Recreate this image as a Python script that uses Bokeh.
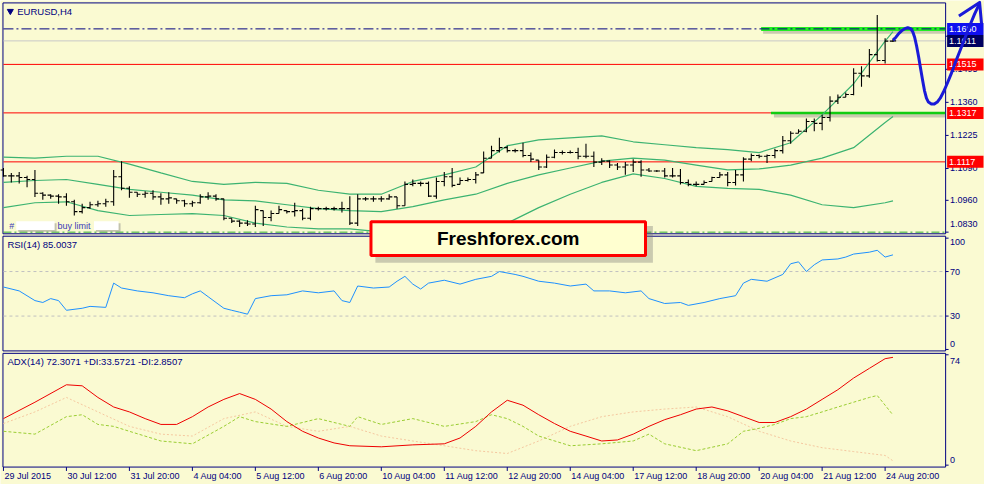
from bokeh.plotting import figure
from bokeh.models import Range1d, ColumnDataSource
from bokeh.transform import dodge
from bokeh.core.properties import value
from bokeh.embed import file_html
from bokeh.resources import INLINE

# ---------------- data ----------------
symbol_title = "EURUSD,H4"
time_labels = ["29 Jul 2015", "30 Jul 12:00", "31 Jul 20:00", "4 Aug 04:00", "5 Aug 12:00",
               "6 Aug 20:00", "10 Aug 04:00", "11 Aug 12:00", "12 Aug 20:00", "14 Aug 04:00",
               "17 Aug 12:00", "18 Aug 20:00", "20 Aug 04:00", "21 Aug 12:00", "24 Aug 20:00"]
time_label_bars = [0, 8, 16, 24, 32, 40, 48, 56, 64, 72, 80, 88, 96, 104, 112]

bar_open = [1.1084, 1.1060, 1.1060, 1.1053, 1.1045, 1.0989, 1.0981, 1.0977, 1.0974, 1.0954,
            1.0914, 1.0930, 1.0942, 1.0946, 1.0954, 1.1056, 1.1009, 1.0993, 1.0985, 1.0989,
            1.0974, 1.0966, 1.0966, 1.0958, 1.0946, 1.0950, 1.0974, 1.0977, 1.0966, 1.0887,
            1.0875, 1.0867, 1.0863, 1.0918, 1.0890, 1.0906, 1.0918, 1.0914, 1.0918, 1.0887,
            1.0926, 1.0926, 1.0926, 1.0926, 1.0926, 1.0867, 1.0966, 1.0966, 1.0966, 1.0966,
            1.0974, 1.0938, 1.1025, 1.1029, 1.1029, 1.0977, 1.1037, 1.1056, 1.1025, 1.1041,
            1.1045, 1.1072, 1.1132, 1.1163, 1.1175, 1.1163, 1.1163, 1.1143, 1.1124, 1.1096,
            1.1136, 1.1155, 1.1155, 1.1155, 1.1140, 1.1140, 1.1116, 1.1120, 1.1104, 1.1096,
            1.1104, 1.1116, 1.1084, 1.1080, 1.1080, 1.1060, 1.1060, 1.1033, 1.1025, 1.1025,
            1.1037, 1.1053, 1.1064, 1.1033, 1.1064, 1.1128, 1.1143, 1.1140, 1.1143, 1.1163,
            1.1203, 1.1234, 1.1242, 1.1282, 1.1274, 1.1298, 1.1365, 1.1381, 1.1392, 1.1479,
            1.1468, 1.1555, 1.1531, 1.1610]
bar_high = [1.1092, 1.1072, 1.1076, 1.1060, 1.1084, 1.0993, 1.0985, 1.0985, 1.0989, 1.0962,
            1.0946, 1.0954, 1.0958, 1.0966, 1.1084, 1.1120, 1.1017, 1.0993, 1.0997, 1.1001,
            1.0989, 1.0993, 1.0966, 1.0962, 1.0958, 1.0985, 1.0993, 1.0985, 1.0966, 1.0887,
            1.0879, 1.0879, 1.0938, 1.0918, 1.0918, 1.0938, 1.0918, 1.0950, 1.0926, 1.0934,
            1.0934, 1.0934, 1.0934, 1.0954, 1.0977, 1.0985, 1.0974, 1.0977, 1.0977, 1.0985,
            1.0974, 1.1037, 1.1045, 1.1037, 1.1037, 1.1053, 1.1076, 1.1092, 1.1053, 1.1053,
            1.1076, 1.1159, 1.1183, 1.1215, 1.1183, 1.1171, 1.1195, 1.1155, 1.1124, 1.1147,
            1.1167, 1.1163, 1.1163, 1.1175, 1.1191, 1.1159, 1.1132, 1.1124, 1.1112, 1.1116,
            1.1128, 1.1124, 1.1092, 1.1084, 1.1092, 1.1092, 1.1088, 1.1045, 1.1037, 1.1041,
            1.1056, 1.1076, 1.1076, 1.1084, 1.1136, 1.1151, 1.1147, 1.1147, 1.1171, 1.1223,
            1.1242, 1.1250, 1.1294, 1.1294, 1.1309, 1.1385, 1.1392, 1.1400, 1.1499, 1.1507,
            1.1578, 1.1717, 1.1622, 1.1618]
bar_low = [1.1056, 1.1033, 1.1029, 1.1013, 1.0974, 1.0962, 1.0966, 1.0946, 1.0938, 1.0898,
           1.0906, 1.0926, 1.0934, 1.0934, 1.0938, 1.1001, 1.0970, 1.0974, 1.0970, 1.0962,
           1.0942, 1.0946, 1.0946, 1.0934, 1.0934, 1.0946, 1.0962, 1.0958, 1.0879, 1.0867,
           1.0851, 1.0855, 1.0851, 1.0855, 1.0875, 1.0906, 1.0906, 1.0894, 1.0879, 1.0879,
           1.0918, 1.0918, 1.0918, 1.0910, 1.0859, 1.0855, 1.0958, 1.0954, 1.0954, 1.0962,
           1.0926, 1.0938, 1.1017, 1.1017, 1.0974, 1.0966, 1.1017, 1.1013, 1.1025, 1.1037,
           1.1029, 1.1072, 1.1132, 1.1155, 1.1155, 1.1155, 1.1136, 1.1116, 1.1084, 1.1092,
           1.1132, 1.1147, 1.1151, 1.1128, 1.1132, 1.1096, 1.1104, 1.1092, 1.1084, 1.1064,
           1.1076, 1.1056, 1.1076, 1.1076, 1.1053, 1.1053, 1.1025, 1.1017, 1.1017, 1.1025,
           1.1037, 1.1053, 1.1017, 1.1021, 1.1037, 1.1120, 1.1132, 1.1112, 1.1132, 1.1151,
           1.1191, 1.1234, 1.1238, 1.1242, 1.1246, 1.1282, 1.1353, 1.1381, 1.1389, 1.1424,
           1.1460, 1.1527, 1.1519, 1.1606]
bar_close = [1.1060, 1.1060, 1.1053, 1.1045, 1.0989, 1.0981, 1.0977, 1.0974, 1.0954, 1.0914,
             1.0930, 1.0942, 1.0946, 1.0954, 1.1056, 1.1009, 1.0993, 1.0985, 1.0989, 1.0974,
             1.0966, 1.0970, 1.0958, 1.0946, 1.0950, 1.0974, 1.0977, 1.0966, 1.0887, 1.0875,
             1.0867, 1.0863, 1.0922, 1.0890, 1.0906, 1.0922, 1.0914, 1.0918, 1.0887, 1.0926,
             1.0926, 1.0926, 1.0926, 1.0926, 1.0867, 1.0966, 1.0966, 1.0966, 1.0966, 1.0974,
             1.0938, 1.1025, 1.1029, 1.1029, 1.0977, 1.1037, 1.1056, 1.1021, 1.1041, 1.1045,
             1.1064, 1.1132, 1.1163, 1.1175, 1.1163, 1.1163, 1.1143, 1.1128, 1.1096, 1.1136,
             1.1155, 1.1155, 1.1155, 1.1140, 1.1140, 1.1116, 1.1120, 1.1104, 1.1096, 1.1104,
             1.1116, 1.1084, 1.1080, 1.1080, 1.1060, 1.1060, 1.1033, 1.1025, 1.1025, 1.1033,
             1.1053, 1.1064, 1.1033, 1.1064, 1.1128, 1.1143, 1.1140, 1.1143, 1.1163, 1.1203,
             1.1234, 1.1242, 1.1282, 1.1274, 1.1298, 1.1365, 1.1381, 1.1392, 1.1479, 1.1468,
             1.1555, 1.1531, 1.1610, 1.1611]

bb_bars = [0, 4, 8, 12, 16, 20, 24, 28, 32, 36, 40, 44, 48, 52, 56, 60, 64, 68, 72, 76,
           80, 84, 88, 92, 96, 100, 104, 108, 112, 113]
bb_upper = [1.1136, 1.1132, 1.1140, 1.1140, 1.1108, 1.1072, 1.1037, 1.1025, 1.1033, 1.1029,
            1.1001, 1.0985, 1.0985, 1.1037, 1.1064, 1.1096, 1.1183, 1.1207, 1.1215, 1.1223,
            1.1199, 1.1187, 1.1175, 1.1167, 1.1155, 1.1195, 1.1309, 1.1436, 1.1610, 1.1649]
bb_middle = [1.1033, 1.1041, 1.1045, 1.1025, 1.1005, 1.0993, 1.0981, 1.0962, 1.0958, 1.0942,
             1.0926, 1.0918, 1.0914, 1.0934, 1.0962, 1.0985, 1.1029, 1.1064, 1.1092, 1.1120,
             1.1132, 1.1124, 1.1104, 1.1084, 1.1088, 1.1104, 1.1132, 1.1175, 1.1278, 1.1302]
bb_lower = [1.0930, 1.0950, 1.0954, 1.0918, 1.0898, 1.0902, 1.0906, 1.0898, 1.0867, 1.0851,
            1.0843, 1.0843, 1.0831, 1.0827, 1.0835, 1.0851, 1.0867, 1.0930, 1.0985, 1.1033,
            1.1068, 1.1049, 1.1017, 1.1009, 1.1005, 1.0981, 1.0942, 1.0930, 1.0950, 1.0958]

rsi_bars = [0, 2, 4, 5, 6, 7, 8, 10, 11, 13, 14, 15, 17, 19, 21, 23, 24, 25, 26, 28,
            29, 30, 31, 32, 34, 36, 38, 40, 42, 43, 44, 45, 47, 49, 50, 51, 52, 53, 54, 56,
            58, 60, 62, 63, 65, 66, 68, 70, 72, 74, 75, 77, 79, 81, 82, 84, 86, 87, 89, 91,
            93, 94, 95, 97, 99, 100, 101, 102, 103, 104, 106, 107, 108, 110, 111, 112, 113]
rsi_values = [56.1, 52.6, 43.9, 42.2, 45.7, 43.9, 35.2, 37.0, 38.7, 37.8, 59.6, 55.2, 52.6, 50.9,
              48.3, 46.5, 50.0, 52.6, 47.4, 37.0, 35.2, 33.5, 31.7, 45.7, 48.3, 49.1, 52.6, 50.9,
              52.6, 43.9, 42.2, 57.0, 55.2, 56.1, 61.3, 65.7, 58.7, 54.3, 59.6, 62.2, 58.7, 63.0,
              65.7, 70.0, 67.4, 65.7, 61.3, 59.6, 57.0, 58.7, 52.6, 52.6, 50.9, 52.6, 45.7, 41.3,
              42.2, 39.6, 42.2, 45.7, 48.3, 59.6, 63.0, 61.3, 67.4, 77.0, 78.7, 70.0, 76.1, 80.4,
              81.3, 83.0, 85.7, 87.4, 89.1, 83.0, 85.0]

adx_bars = [0, 4, 8, 10, 12, 14, 16, 18, 20, 22, 24, 26, 28, 30, 32, 34, 36, 38, 40, 42,
            44, 48, 52, 56, 58, 60, 62, 64, 66, 68, 70, 72, 74, 76, 78, 80, 82, 84, 86, 88,
            90, 92, 94, 96, 98, 100, 102, 104, 106, 108, 110, 112, 113]
adx_main = [31.2, 42.2, 53.9, 53.2, 45.4, 39.0, 35.7, 31.2, 27.3, 27.3, 32.5, 39.0, 44.1, 48.0,
            44.1, 37.6, 29.2, 22.7, 18.2, 14.9, 13.0, 12.3, 13.6, 14.3, 18.2, 26.0, 35.7, 43.5,
            40.2, 33.8, 27.9, 22.7, 19.5, 16.2, 16.9, 20.8, 26.0, 30.5, 33.8, 37.6, 39.0, 36.4,
            32.5, 28.6, 28.6, 32.5, 37.6, 44.1, 50.6, 58.4, 64.9, 71.4, 72.3]
plus_di_bars = [0, 4, 8, 10, 12, 14, 16, 20, 24, 28, 30, 32, 36, 40, 44, 45, 48, 52, 56, 60,
                62, 64, 66, 68, 72, 76, 80, 82, 84, 88, 92, 94, 96, 98, 100, 102, 104, 106, 108,
                110, 111, 112, 113]
adx_plus_di = [22.7, 20.8, 32.5, 33.8, 27.3, 26.0, 22.7, 16.2, 14.3, 26.0, 32.5, 29.2, 26.0, 31.2,
               26.0, 32.5, 27.3, 31.2, 26.0, 29.2, 33.8, 31.2, 26.0, 19.5, 13.0, 14.3, 16.2, 20.8,
               14.3, 9.7, 14.3, 22.7, 24.7, 27.3, 31.2, 32.5, 35.7, 39.0, 42.2, 45.4, 46.7, 40.2,
               33.6]
minus_di_bars = [0, 4, 8, 12, 16, 20, 24, 28, 32, 36, 40, 44, 48, 52, 56, 60, 64, 68, 72, 76,
                 80, 84, 88, 92, 96, 100, 104, 108, 112, 113]
adx_minus_di = [27.9, 35.7, 45.4, 35.7, 26.0, 20.8, 19.5, 31.2, 35.7, 26.0, 22.7, 26.0, 19.5, 16.2,
                13.0, 9.7, 7.8, 16.2, 26.0, 32.5, 35.7, 37.6, 39.0, 32.5, 22.7, 16.2, 11.7, 9.1,
                6.5, 2.9]

price_ticks = [1.0830, 1.0960, 1.1090, 1.1225, 1.1360, 1.1495, 1.1630]
price_tick_labels = ["1.0830", "1.0960", "1.1090", "1.1225", "1.1360", "1.1495", "1.1630"]
red_levels = [1.1515, 1.1317, 1.1117]
resistance_level = 1.1660
support_level = 1.1317
bid_price = 1.1611
buy_limit_price = 1.0830
marker_prices = [1.1660, 1.1611, 1.1515, 1.1317, 1.1117]
marker_labels = ["1.1660", "1.1611", "1.1515", "1.1317", "1.1117"]
rsi_levels = [70, 30]
rsi_ticks = [100, 70, 30, 0]
adx_ticks = [74, 0]
rsi_caption = "RSI(14) 85.0037"
adx_caption = "ADX(14) 72.3071 +DI:33.5721 -DI:2.8507"
watermark = "Freshforex.com"

forecast_bar = [113.0, 113.375, 113.75, 114.125, 114.5, 114.875, 115.25, 115.5, 115.75, 116.0,
                116.25, 116.5, 116.75, 117.0, 117.25, 117.5, 117.875, 118.25, 118.625, 119.0,
                119.375, 119.875, 120.375, 120.875, 121.5, 122.125, 122.75, 123.375, 124.0]
forecast_price = [1.1614, 1.1626, 1.1642, 1.1653, 1.1661, 1.1665, 1.1661, 1.1649, 1.1626, 1.1590,
                  1.1547, 1.1499, 1.1452, 1.1408, 1.1377, 1.1361, 1.1353, 1.1353, 1.1361, 1.1377,
                  1.1400, 1.1436, 1.1475, 1.1519, 1.1570, 1.1622, 1.1673, 1.1721, 1.1764]
arrow_bar = [121.375, 124.0, 124.25]
arrow_price = [1.1713, 1.1768, 1.1681]

# ---------------- styling ----------------
BG = "#FAFAD2"
NAVY = "#000080"
FONT = value("Liberation Sans")
FS = "9px"

p = figure(width=984, height=484, x_range=Range1d(-0.375, 124.625), y_range=Range1d(500, 0),
           output_backend="svg", toolbar_location=None, min_border=0,
           x_axis_location=None, y_axis_location=None, outline_line_color=None,
           background_fill_color=BG, border_fill_color=BG)
p.min_border_left = p.min_border_right = p.min_border_top = p.min_border_bottom = 0
p.grid.visible = False
p.extra_x_ranges = {"px": Range1d(0, 1000)}
p.extra_y_ranges = {"price": Range1d(0.97996, 1.17759),
                    "rsi": Range1d(-121.3, 313.48),
                    "adx": Range1d(-12.98, 311.59)}

PX = dict(x_range_name="px")
PR = dict(y_range_name="price")

# panel frames
p.quad(left=[2.5, 2.5, 2.5], right=[960.5, 960.5, 960.5], top=[2.5, 243.5, 364.5],
       bottom=[241, 362, 482], fill_color=None, line_color=NAVY, line_width=1, **PX)

# ---- main panel ----
p.segment(x0=[3], x1=[960], y0=[bid_price], y1=[bid_price], line_color="#C8C8C8", line_width=1, **PX, **PR)
p.segment(x0=[3] * 3, x1=[960] * 3, y0=red_levels, y1=red_levels, line_color="#FF0000", line_width=1, **PX, **PR)
p.segment(x0=[3], x1=[960], y0=[buy_limit_price], y1=[buy_limit_price], line_color="#2EAA2E",
          line_dash="8 3 2 3", line_width=1, **PX, **PR)
# green zone lines with soft shadow
p.segment(x0=[775, 786], x1=[960, 960], y0=[resistance_level - 0.0010, support_level - 0.0009],
          y1=[resistance_level - 0.0010, support_level - 0.0009], line_color="#707070", line_alpha=0.35,
          line_width=5, **PX, **PR)
p.segment(x0=[773], x1=[960], y0=[resistance_level], y1=[resistance_level], line_color="#22EE22",
          line_width=4, **PX, **PR)
p.segment(x0=[783], x1=[960], y0=[support_level], y1=[support_level], line_color="#11CC11",
          line_width=2.5, **PX, **PR)
p.segment(x0=[3], x1=[960], y0=[resistance_level], y1=[resistance_level], line_color=NAVY,
          line_dash="10 3 2 3", line_width=1, **PX, **PR)

# Bollinger bands
for band in (bb_upper, bb_middle, bb_lower):
    p.line(bb_bars, band, line_color="#3CB371", line_width=1.2, **PR)

# OHLC bars
src = ColumnDataSource(dict(x=list(range(len(bar_close))), o=bar_open, h=bar_high, l=bar_low, c=bar_close))
p.segment(x0="x", x1="x", y0="l", y1="h", source=src, line_color="black", line_width=1.1, **PR)
p.segment(x0=dodge("x", -0.4, range=p.x_range), x1="x", y0="o", y1="o", source=src,
          line_color="black", line_width=1.1, **PR)
p.segment(x0="x", x1=dodge("x", 0.4, range=p.x_range), y0="c", y1="c", source=src,
          line_color="black", line_width=1.1, **PR)

# right price scale
p.segment(x0=[960.5] * len(price_ticks), x1=[963.5] * len(price_ticks), y0=price_ticks, y1=price_ticks,
          line_color=NAVY, **PX, **PR)
price_offsets = [-8] + [0] * (len(price_ticks) - 1)
p.text(x=[965] * len(price_ticks), y=price_ticks, text=price_tick_labels, y_offset=price_offsets,
       text_font=FONT, text_font_size=FS, text_color=NAVY, text_align="left", text_baseline="middle",
       **PX, **PR)
marker_colors = ["#1010F0", "#000060", "#FF0000", "#FF0000", "#FF0000"]
p.rect(x=[980.5] * 5, y=marker_prices, width=[37] * 5, height=12, height_units="screen",
       fill_color=marker_colors, line_color=None, **PX, **PR)
p.text(x=[964] * 5, y=marker_prices, text=marker_labels, text_font=FONT, text_font_size=FS,
       text_color="white", text_align="left", text_baseline="middle", **PX, **PR)

# hand-drawn forecast
p.line(forecast_bar, forecast_price, line_color="#1A1AD8", line_width=3, line_join="round", **PR)
p.line(arrow_bar, arrow_price, line_color="#1A1AD8", line_width=3, line_join="round", **PR)

# title
p.scatter(x=[10], y=[11], marker="inverted_triangle", size=6, color=NAVY, **PX)
p.text(x=[17], y=[11], text=[symbol_title], text_font=FONT, text_font_size="9.5px", text_color=NAVY,
       text_align="left", text_baseline="middle", **PX)

# buy-limit label
p.quad(left=[18, 97], right=[57, 122], top=[230, 230], bottom=[239, 239], fill_color="#808080",
       fill_alpha=0.45, line_color=None, **PX)
p.quad(left=[16, 95], right=[55, 120], top=[228, 228], bottom=[237, 237], fill_color="white",
       line_color=None, **PX)
p.text(x=[9, 58], y=[233, 233], text=["#", "buy limit"], text_font=FONT, text_font_size=FS,
       text_color="#3A3AB8", text_align="left", text_baseline="middle", **PX)

# ---- RSI panel ----
p.segment(x0=[3, 3], x1=[960, 960], y0=rsi_levels, y1=rsi_levels, line_color="#C0C0C0",
          line_dash="3 3", y_range_name="rsi", **PX)
p.line(rsi_bars, rsi_values, line_color="#1E90FF", line_width=1, y_range_name="rsi")
p.segment(x0=[960.5] * 4, x1=[963.5] * 4, y0=rsi_ticks, y1=rsi_ticks, line_color=NAVY,
          y_range_name="rsi", **PX)
p.text(x=[965] * 4, y=rsi_ticks, text=[str(v) for v in rsi_ticks], y_offset=[4, 0, 0, -5],
       text_font=FONT, text_font_size=FS, text_color=NAVY, text_align="left", text_baseline="middle",
       y_range_name="rsi", **PX)
p.text(x=[7], y=[252], text=[rsi_caption], text_font=FONT, text_font_size="9.5px", text_color=NAVY,
       text_align="left", text_baseline="middle", **PX)

# ---- ADX panel ----
p.line(minus_di_bars, adx_minus_di, line_color="#F5C8A0", line_width=1, line_dash="2 2", y_range_name="adx")
p.line(plus_di_bars, adx_plus_di, line_color="#9ACD32", line_width=1, line_dash="3 2", y_range_name="adx")
p.line(adx_bars, adx_main, line_color="#EE0000", line_width=1, y_range_name="adx")
p.segment(x0=[960.5] * 2, x1=[963.5] * 2, y0=adx_ticks, y1=adx_ticks, line_color=NAVY,
          y_range_name="adx", **PX)
p.text(x=[965] * 2, y=adx_ticks, text=[str(v) for v in adx_ticks], y_offset=[6, -5],
       text_font=FONT, text_font_size=FS, text_color=NAVY, text_align="left", text_baseline="middle",
       y_range_name="adx", **PX)
p.text(x=[7], y=[373], text=[adx_caption], text_font=FONT, text_font_size="9.5px", text_color=NAVY,
       text_align="left", text_baseline="middle", **PX)

# ---- time axis ----
p.segment(x0=time_label_bars, x1=time_label_bars, y0=[482] * 15, y1=[486] * 15, line_color=NAVY)
p.text(x=time_label_bars, y=[491.5] * 15, text=time_labels, x_offset=1, text_font=FONT,
       text_font_size=FS, text_color=NAVY, text_align="left", text_baseline="middle")

# ---- watermark box ----
p.quad(left=[381], right=[663], top=[233], bottom=[271], fill_color="#707070", fill_alpha=0.35,
       line_color=None, **PX)
p.quad(left=[376.5], right=[655.5], top=[228.5], bottom=[263.5], fill_color="#FFFFD0",
       line_color="#FF0000", line_width=3, **PX)
p.text(x=[516], y=[246], text=[watermark], text_font=FONT, text_font_size="19px",
       text_font_style="bold", text_color="black", text_align="center", text_baseline="middle", **PX)

open("out.html", "w").write(file_html(p, INLINE))
